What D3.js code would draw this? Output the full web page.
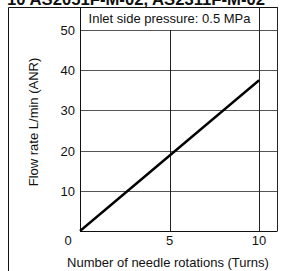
<!DOCTYPE html>
<html>
<head>
<meta charset="utf-8">
<script src="https://cdn.jsdelivr.net/npm/d3@7"></script>
<style>
  body { margin: 0; background: #fff; }
  text { font-family: "Liberation Sans", Arial, sans-serif; fill: #111; }
</style>
</head>
<body>
<script>
var titleText = "10 AS2051F-M-02, AS2311F-M-02";
var noteText = "Inlet side pressure: 0.5 MPa";
var xTitle = "Number of needle rotations (Turns)";
var yTitle = "Flow rate L/min (ANR)";

var xTicks = [0, 5, 10];
var yTicks = [10, 20, 30, 40, 50];
var turns = [0, 10];
var flow = [0, 37.5];

var W = 307, H = 271;
var svg = d3.select('body').append('svg')
    .attr('width', W)
    .attr('height', H);

var x = d3.scaleLinear().domain([0, 11]).range([80, 277]);
var y = d3.scaleLinear().domain([0, 50]).range([231, 30]);
var frameTop = 7;

// title, cut at the top edge like the source scan
svg.append('text')
    .attr('x', 7).attr('y', 5)
    .attr('font-size', 17).attr('font-weight', 'bold')
    .attr('textLength', 258).attr('lengthAdjust', 'spacingAndGlyphs')
    .text(titleText);

// outer frame (left + top)
svg.append('path')
    .attr('d', 'M8.5,' + H + 'V' + (frameTop + 0.5) + 'H278')
    .attr('fill', 'none').attr('stroke', '#111').attr('stroke-width', 1);

// horizontal grid
svg.append('g').selectAll('line')
    .data(yTicks).join('line')
    .attr('x1', x(0)).attr('x2', x(11))
    .attr('y1', d => Math.round(y(d)) + 0.5).attr('y2', d => Math.round(y(d)) + 0.5)
    .attr('stroke', '#555').attr('stroke-width', 1);

// vertical grid
svg.append('line')
    .attr('x1', Math.round(x(5)) + 0.5).attr('x2', Math.round(x(5)) + 0.5)
    .attr('y1', y(50)).attr('y2', y(0))
    .attr('stroke', '#222');
[10, 11].forEach(function(v) {
  svg.append('line')
      .attr('x1', Math.round(x(v)) + 0.5).attr('x2', Math.round(x(v)) + 0.5)
      .attr('y1', frameTop).attr('y2', y(0))
      .attr('stroke', '#222');
});

// axes
svg.append('line')
    .attr('x1', x(0) + 0.5).attr('x2', x(0) + 0.5)
    .attr('y1', frameTop).attr('y2', y(0) + 0.5)
    .attr('stroke', '#111');
svg.append('line')
    .attr('x1', x(0)).attr('x2', x(11) + 0.5)
    .attr('y1', y(0) + 0.5).attr('y2', y(0) + 0.5)
    .attr('stroke', '#111');

// note
svg.append('text')
    .attr('x', (x(0) + x(10)) / 2).attr('y', 23)
    .attr('text-anchor', 'middle').attr('font-size', 13)
    .text(noteText);

// tick labels
svg.append('g').selectAll('text')
    .data(yTicks).join('text')
    .attr('x', 75).attr('y', d => y(d) + 5)
    .attr('text-anchor', 'end').attr('font-size', 13)
    .text(d => d);
svg.append('g').selectAll('text')
    .data(xTicks).join('text')
    .attr('x', d => d === 0 ? 68 : x(d)).attr('y', 245)
    .attr('text-anchor', 'middle').attr('font-size', 13)
    .text(d => d);

// axis titles
svg.append('text')
    .attr('transform', 'translate(38,122) rotate(-90)')
    .attr('text-anchor', 'middle').attr('font-size', 13)
    .text(yTitle);
svg.append('text')
    .attr('x', 168).attr('y', 267)
    .attr('text-anchor', 'middle').attr('font-size', 13)
    .text(xTitle);

// data line
var line = d3.line().x(d => x(d[0])).y(d => y(d[1]));
svg.append('path')
    .datum(d3.zip(turns, flow))
    .attr('d', line)
    .attr('fill', 'none').attr('stroke', '#000').attr('stroke-width', 2.4);
</script>
</body>
</html>
